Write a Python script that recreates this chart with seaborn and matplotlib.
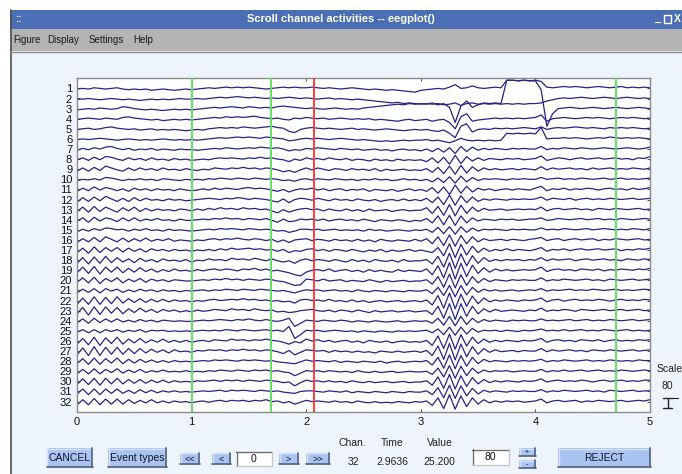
import numpy as np
import pandas as pd
import matplotlib
matplotlib.use("Agg")
import matplotlib.pyplot as plt
from matplotlib.patches import Rectangle
from matplotlib.lines import Line2D
import seaborn as sns

# ---- EEG epoch, 32 channels, samples every 0.05 s over 0..5 s (microvolts) ----
ch01 = [-5,0,-5,5,0, -5,0,5,-5,-10, -5,-10,-5,-15,-10, -5,-10,-15,-10,-5,
        -10,-5,0,5,0, 5,10,5,10,5, 10,5,0,-5,0, 5,10,5,10,5,
        5,10,5,0,5, 0,-5,0,5,0, -5,-10,-5,-10,-15, -10,-15,-20,-25,-30,
        -15,-10,-5,0,-5, 10,30,0,5,20, 5,0,5,10,5, 65,65,60,65,60,
        65,55,10,5,10, 15,10,15,10,5, 10,15,10,5,10, 15,5,10,5,10, 5]
ch02 = [0,-5,0,-5,-10, -5,0,-5,-10,-5, -10,-15,-10,-5,-10, -5,-10,-5,0,-5,
        -5,0,-5,0,5, 10,5,10,15,10, 5,10,5,0,5, 0,5,10,5,0,
        5,0,-5,0,5, -5,0,-5,-10,-5, -10,-15,-20,-25,-30, -35,-30,-40,-35,-40,
        -45,-40,-45,-40,-50, -45,-35,-55,-40,-35, -45,-40,-45,-40,-45, -40,-45,-40,-45,-40,
        -40,-35,-20,-10,0, 5,0,5,10,5, 0,5,10,5,0, 5,10,5,0,5, 0]
ch03 = [-10,-5,0,-5,5, 0,-5,0,15,10, 0,-5,-10,-5,-10, -15,-10,-5,-10,-5,
        -10,-5,0,5,10, 5,10,15,10,5, 15,10,5,10,5, 15,20,15,10,5,
        0,5,0,-5,0, 5,0,-5,0,-5, 5,10,15,20,25, 30,35,30,40,35,
        40,35,45,30,40, 10,-110,20,60,10, 30,45,40,45,40, 225,225,220,225,220,
        220,150,-140,-40,0, 5,10,5,0,5, 10,5,0,5,10, 5,0,5,10,5, 0]
ch04 = [-5,0,5,0,-5, 5,0,-5,10,15, 5,0,-5,-10,-5, -15,-10,-5,-10,-5,
        -10,-5,0,5,10, 5,15,10,15,10, 15,20,10,5,0, 5,-5,-10,5,0,
        10,5,0,5,-5, 0,5,0,-5,0, -5,0,-10,-5,-10, -15,-20,-10,-5,-15,
        -10,-5,-20,-10,-5, -30,-80,15,40,-20, -10,-5,0,5,0, 5,0,5,0,5,
        10,30,-20,0,5, 10,5,0,5,10, 5,10,5,0,5, 10,5,10,5,0, 5]
ch05 = [-5,0,5,-5,0, 10,15,5,0,-5, 0,-10,-5,0,-10, -5,-10,-5,-10,-15,
        -10,-5,-10,0,5, 10,5,10,5,15, 10,5,10,15,20, 10,5,-20,-30,-5,
        5,10,5,0,5, 0,-5,0,5,-5, 0,-5,-10,-5,0, -5,-10,-15,-10,-5,
        -10,-5,-15,-20,-10, -35,-70,20,40,-25, -5,0,-5,5,0, 5,0,5,10,5,
        0,15,-5,5,10, 5,10,15,10,5, 10,5,0,10,5, 10,5,10,5,0, 5]
ch06 = [-5,0,-5,0,5, 0,-5,-10,-5,0, -5,-10,-5,-10,-5, 0,-5,-10,-5,-10,
        -5,-10,-5,0,5, 10,5,10,15,10, 15,10,5,15,10, 5,0,-15,-10,0,
        5,0,5,0,-5, 0,5,0,-5,-10, -5,-10,-15,-20,-15, -20,-15,-10,-15,-10,
        -10,-5,-15,-10,-20, -30,-15,5,-10,-15, -10,-15,-10,-15,-10, 45,40,45,40,45,
        40,90,0,5,5, 10,5,10,5,0, 5,10,5,15,10, 5,10,5,10,5, 0]
ch07 = [-10,5,-5,10,0, 15,20,5,-5,5, -10,0,-5,5,-10, 0,-5,-10,0,-5,
        -5,-10,-5,0,5, 0,10,5,0,5, 10,5,15,10,5, 10,0,-15,-5,-10,
        5,0,10,5,0, -5,5,0,-5,0, -10,-5,0,-10,-5, -15,-5,0,-10,-5,
        -15,0,-20,5,-25, 10,-35,20,-20,15, -10,5,-5,5,0, -5,5,0,5,0,
        0,20,-5,5,0, 10,5,0,10,5, 0,5,10,5,0, 5,10,5,0,5, 15]
ch08 = [-5,10,-10,15,-5, 20,15,0,-10,10, -5,5,-10,10,-5, 0,-10,5,-5,0,
        -10,-5,0,-5,5, 10,5,10,5,0, 10,5,15,5,10, 0,-5,-20,0,-10,
        10,0,5,-5,10, 0,-5,5,-10,0, -5,-15,0,-10,-5, -15,0,-10,-5,-10,
        -5,-20,10,-30,15, -40,30,-35,20,-15, 10,-10,5,0,-5, 5,0,5,-5,0,
        5,25,-10,0,10, 5,-5,5,10,0, 5,10,0,5,10, 0,5,-5,10,5, 20]
ch09 = [-15,10,-15,15,-10, 25,10,-5,-15,10, -10,10,-5,5,-10, 10,-5,0,-10,5,
        -5,-10,0,-5,10, 5,0,10,5,15, 5,10,0,10,5, -5,-20,-10,-25,-5,
        10,-5,10,0,-10, 5,0,-10,5,-5, 0,-10,5,-15,0, -10,-5,0,-10,-5,
        -10,5,-25,15,-35, 25,-40,30,-30,20, -15,10,-5,5,-5, 0,5,-5,5,0,
        -5,20,-5,10,0, 5,10,0,5,-5, 10,0,5,10,0, 5,0,10,5,0, 10]
ch10 = [-10,0,-5,5,-5, 15,10,0,-10,0, -5,5,-5,0,-10, 5,0,-5,-10,0,
        -5,0,-5,5,0, 10,5,0,10,5, 0,10,5,0,5, 0,-10,-5,-15,0,
        5,-5,5,0,-5, 5,0,-5,0,-10, 0,-5,5,-5,0, -10,-5,5,-5,0,
        -10,0,-20,10,-25, 20,-30,25,-20,15, -10,5,0,5,0, -5,5,0,5,0,
        0,15,0,5,10, 0,5,0,10,5, 0,5,10,0,5, 10,0,5,0,5, 10]
ch11 = [-15,10,-10,20,-5, 15,5,-10,5,-15, 10,-5,5,-10,5, -5,0,-10,5,-5,
        -10,-5,5,-5,10, 0,10,5,0,10, 15,5,10,5,-5, -15,0,-20,-5,5,
        0,10,-5,5,-10, 0,5,-10,0,-5, 5,-15,0,-5,-10, 0,-15,-5,5,-10,
        0,-15,15,-30,20, -40,35,-30,25,-20, 10,-5,5,-10,0, 5,-5,5,0,-5,
        10,25,-10,5,0, 10,-5,5,0,10, 5,-5,5,10,0, 5,-5,10,0,5, 15]
ch12 = [-20,15,-15,20,-10, 25,5,-15,10,-15, 15,-10,10,-5,0, -10,5,-5,0,-10,
        -5,0,5,10,5, 0,10,5,15,10, 0,10,5,0,-10, -20,5,-25,0,10,
        5,-5,10,0,-10, 5,-5,0,-10,5, -5,-10,0,-15,-5, 0,-10,5,-10,0,
        -10,10,-25,20,-40, 35,-45,30,-25,20, -15,5,-5,5,0, -5,5,0,5,0,
        5,20,-5,10,5, 0,10,-5,5,10, 0,5,0,10,5, 0,5,10,0,5, 10]
ch13 = [-15,20,-20,25,-15, 20,0,-20,15,-10, 20,-15,10,-10,5, -5,0,-10,5,0,
        -10,5,-5,10,0, 15,5,10,0,15, 5,10,0,5,-10, -25,0,-20,-5,5,
        10,0,5,-10,5, -5,-10,5,-10,0, -15,5,-10,-5,0, -15,-5,0,-10,-5,
        -5,15,-30,25,-45, 40,-50,35,-30,20, -15,10,-5,0,5, -5,0,5,0,5,
        0,20,-10,5,10, 0,5,10,0,5, -5,10,5,0,10, 5,0,5,10,0, 5]
ch14 = [-10,15,-20,20,-10, 15,5,-15,15,-10, 15,-10,5,-5,10, -5,0,-10,5,-5,
        -5,0,5,0,10, 5,15,5,10,0, 10,5,0,10,-5, -20,5,-15,-10,5,
        0,5,-5,5,-10, 0,5,-5,0,-10, 5,-5,-15,0,-5, -10,0,-5,-15,-5,
        -10,10,-25,30,-40, 35,-45,30,-25,15, -10,5,0,-5,5, 0,5,-5,0,5,
        5,15,-5,0,10, 5,0,5,10,0, 5,10,0,5,0, 10,5,0,5,10, 5]
ch15 = [-15,5,-10,10,-5, 15,10,0,5,-10, 5,-5,10,-5,0, -10,5,-5,0,-5,
        -10,-5,0,5,0, 10,5,10,5,0, 10,5,0,5,0, -10,-5,-20,-10,5,
        5,0,5,-5,0, 5,-5,0,-5,0, -10,5,-5,0,-10, -5,0,-5,-10,0,
        -5,5,-20,20,-30, 25,-35,25,-20,15, -10,5,0,5,0, -5,5,0,5,0,
        0,15,0,5,0, 10,5,0,5,10, 0,5,10,5,0, 5,0,10,5,0, 10]
ch16 = [-20,10,-15,20,-15, 25,5,-15,15,-15, 10,-10,15,-10,5, -5,10,-10,0,-5,
        -10,0,-5,5,10, 0,10,5,15,5, 0,10,5,-5,5, -15,0,-20,0,5,
        10,-5,5,0,-10, 5,-5,0,-10,5, -10,0,-15,5,-5, -10,0,-5,-10,5,
        -10,10,-30,25,-45, 40,-50,35,-30,25, -15,10,-5,0,5, -5,5,0,-5,5,
        10,20,-5,5,10, -5,5,10,0,5, 10,-5,5,0,10, 5,0,5,10,0, 5]
ch17 = [-20,15,-25,25,-20, 20,-10,20,-15,15, -10,10,-15,10,-5, 5,-10,5,-5,0,
        -10,0,-5,5,-5, 10,0,15,5,10, 15,5,10,0,5, -10,5,-20,-5,-10,
        5,10,-5,5,-10, 5,0,-10,5,-5, -15,0,-10,5,-15, 0,-10,-5,5,-10,
        0,-10,-20,20,-45, 50,-60,45,-40,30, -20,15,-10,5,-5, 10,-5,5,0,-5,
        5,20,-10,5,0, 10,-5,5,10,0, 5,10,0,5,10, -5,5,0,10,5, 15]
ch18 = [-25,20,-30,25,-25, 30,-20,20,-15,10, -20,15,-10,5,-15, 10,-5,0,-10,5,
        -15,0,-5,10,0, 5,-5,15,5,10, 0,15,5,-5,10, -5,-15,-5,-25,0,
        10,-5,5,0,-10, 5,-5,-15,5,-10, 0,-15,5,-5,-10, 0,-15,5,-10,-5,
        -5,5,-30,30,-55, 55,-65,50,-45,35, -25,20,-10,5,-5, 5,0,5,-5,5,
        0,20,-5,10,0, 5,10,-5,5,10, 0,5,10,0,5, -5,10,5,0,10, 5]
ch19 = [-20,25,-25,30,-30, 25,-15,25,-20,15, -15,20,-10,10,-15, 5,-10,10,-5,0,
        -10,5,-5,5,10, 0,10,5,-5,10, 5,15,0,10,-5, 0,-10,-20,-35,-45,
        -15,0,5,-5,10, -10,0,5,-10,0, -15,5,-10,0,-10, -15,5,-10,0,-5,
        -10,10,-35,35,-60, 60,-70,55,-50,40, -25,20,-15,10,-5, 5,-5,0,5,0,
        5,25,-10,5,10, 0,5,-5,10,5, 0,10,-5,5,0, 10,5,0,10,5, 15]
ch20 = [-15,20,-20,25,-25, 15,-10,20,-20,10, -10,15,-15,10,-5, 5,-10,5,0,-5,
        -5,0,5,0,10, 5,15,5,10,0, 10,5,0,10,5, -5,-10,-25,-40,-35,
        10,5,-5,10,-5, 0,5,-10,0,-5, -10,5,-5,-15,0, -10,-5,0,-10,-5,
        -5,5,-30,30,-55, 50,-60,45,-40,30, -20,15,-10,5,0, -5,5,0,5,0,
        0,20,-5,5,0, 10,5,0,5,10, 0,5,-5,10,5, 0,5,10,0,5, 10]
ch21 = [-20,10,-15,15,-20, 15,-5,10,-15,5, -10,10,-5,5,-10, 5,-5,0,-10,0,
        -5,0,5,-5,5, 0,10,5,0,10, 5,0,10,5,0, -5,0,-10,-20,-5,
        5,0,5,-5,0, 5,-5,0,-10,5, -5,-10,0,-5,-10, 0,-5,-10,0,-5,
        -5,5,-25,25,-40, 40,-50,40,-35,25, -15,10,-5,5,-5, 0,5,-5,0,5,
        0,15,-5,5,0, 5,10,0,5,0, 10,5,0,5,10, 0,5,0,5,10, 5]
ch22 = [-30,20,-30,30,-30, 25,-25,30,-20,15, -15,15,-15,10,-10, 10,-10,5,-5,0,
        -10,0,-5,5,10, 0,5,10,5,15, 5,10,0,5,-5, 0,-10,-5,-20,5,
        10,0,5,-5,10, -5,0,-10,5,-10, 0,-15,-5,0,-10, -5,0,-10,-5,0,
        -10,5,-35,40,-60, 60,-65,50,-45,35, -25,20,-10,5,-5, 5,0,-5,5,0,
        5,20,-10,5,10, -5,5,10,0,5, 0,10,5,-5,5, 10,0,5,0,10, 5]
ch23 = [-25,25,-35,30,-30, 30,-20,25,-25,15, -15,20,-10,10,-15, 10,-5,5,-10,0,
        -10,5,-5,0,10, 5,0,15,5,10, 0,15,5,0,5, -10,-5,-15,-10,0,
        5,10,0,-5,5, -10,5,0,-10,5, -5,-15,0,-10,-5, 0,-10,-5,0,-10,
        -5,0,-30,35,-60, 55,-70,55,-45,35, -25,15,-10,10,-5, 0,5,0,-5,5,
        0,20,-5,5,0, 10,5,-5,10,5, 0,5,10,0,5, 10,0,5,10,0, 5]
ch24 = [-15,15,-20,20,-15, 15,-10,15,-10,5, -10,10,-5,5,-10, 5,0,-5,0,-5,
        -5,0,5,0,5, 10,5,0,10,5, 15,5,0,10,0, -5,5,20,-45,-20,
        5,0,-5,5,0, -5,5,0,-10,0, -5,-10,0,-5,-10, -5,0,-10,-5,0,
        -5,0,-20,20,-35, 35,-40,35,-30,20, -15,10,-5,5,0, -5,5,0,5,0,
        0,15,0,5,0, 5,10,0,5,10, 0,5,0,10,5, 0,5,10,0,5, 10]
ch25 = [-10,10,-15,10,-15, 10,-5,10,-10,5, -5,10,-10,5,0, 5,-5,0,-5,0,
        -5,0,5,0,5, 0,10,5,0,10, 5,0,5,10,0, 5,-5,35,-60,-30,
        5,0,5,-5,0, 5,0,-5,0,-10, 0,-5,-10,0,-5, -10,0,-5,0,-5,
        0,5,-15,15,-30, 30,-35,30,-25,20, -10,5,0,5,-5, 5,0,-5,5,0,
        5,15,0,5,0, 10,0,5,10,0, 5,0,10,5,0, 5,10,0,5,0, 5]
ch26 = [-25,20,-30,30,-35, 25,-20,30,-25,15, -15,20,-15,10,-10, 15,-10,5,-10,5,
        -10,0,5,-5,10, 5,0,15,5,10, 0,10,5,15,5, 0,-10,-25,-5,-15,
        15,0,10,-5,5, -10,0,5,-10,0, -15,5,-5,-10,0, -15,-5,0,-10,-5,
        -10,5,-35,40,-60, 55,-65,50,-40,30, -20,15,-10,5,-5, 5,0,-5,5,0,
        5,20,-10,5,10, 0,5,-5,10,5, 0,10,-5,5,10, 0,5,0,10,5, 10]
ch27 = [-30,25,-35,35,-35, 30,-25,30,-25,20, -20,20,-15,15,-10, 10,-15,10,-5,0,
        -10,5,0,10,5, 10,0,10,5,15, 5,10,0,10,5, -5,-20,5,-30,-10,
        10,5,0,5,-10, 5,-5,0,-10,0, -10,-5,-15,0,-5, -10,0,-10,-5,0,
        -10,5,-35,40,-65, 60,-70,55,-45,35, -25,20,-10,10,-5, 0,5,-5,5,0,
        0,20,-5,10,0, 5,10,0,5,-5, 10,5,0,10,5, 0,5,10,0,5, 10]
ch28 = [-20,20,-25,25,-25, 20,-15,25,-20,15, -15,15,-10,10,-10, 5,-10,5,-5,0,
        -5,0,5,0,10, 5,10,5,0,10, 5,10,5,0,5, -5,-10,-15,-20,-5,
        10,0,5,0,-5, 5,-10,0,-5,-10, 0,-5,-10,0,-15, -5,0,-10,-5,0,
        -5,5,-30,30,-55, 50,-60,45,-40,30, -20,15,-5,5,0, -5,5,0,5,0,
        5,15,-5,5,0, 10,5,0,5,10, 0,5,0,10,5, 0,5,0,10,5, 5]
ch29 = [-20,15,-20,20,-20, 15,-10,20,-15,10, -10,15,-10,5,-5, 10,-5,0,-5,5,
        -5,0,-5,5,0, 10,5,0,10,5, 0,10,5,10,0, 5,-5,-10,-35,-15,
        5,0,5,-5,5, 0,-5,0,-10,5, -5,-10,0,-10,-5, 0,-10,-5,0,-5,
        -5,0,-25,25,-45, 45,-55,40,-35,25, -15,10,-5,5,0, 5,-5,0,5,0,
        0,15,-5,5,0, 10,0,5,10,0, 5,10,0,5,0, 10,5,0,5,10, 5]
ch30 = [-25,20,-25,25,-30, 25,-20,25,-20,15, -15,15,-15,10,-10, 10,-10,5,-5,0,
        -5,5,0,5,10, 0,10,5,10,0, 10,5,0,10,5, 0,-10,-5,-35,-10,
        10,0,5,-5,5, -5,0,-10,5,-5, -10,0,-10,-5,0, -10,-5,0,-10,-5,
        -5,5,-30,35,-55, 55,-60,45,-40,30, -20,15,-10,5,-5, 5,0,-5,5,0,
        5,20,-5,5,10, 0,5,0,10,5, -5,5,10,0,5, 10,0,5,0,10, 10]
ch31 = [-20,20,-25,20,-25, 20,-15,20,-15,10, -15,15,-10,10,-10, 5,-5,5,-5,0,
        -5,0,5,0,5, 10,0,10,5,10, 5,0,10,5,0, 5,-5,-10,-15,0,
        5,5,0,-5,5, 0,-5,5,-10,0, -5,-10,0,-5,-10, 0,-5,-10,0,-5,
        -5,5,-25,30,-50, 50,-55,45,-35,25, -20,10,-5,5,0, -5,5,0,5,0,
        0,15,-5,5,0, 10,5,0,5,10, 0,5,-5,10,5, 0,5,10,0,5, 5]
ch32 = [-25,15,-25,25,-25, 20,-20,20,-20,15, -15,10,-10,15,-10, 5,-10,5,-5,0,
        -10,0,5,-5,5, 10,0,10,5,10, 0,10,5,15,0, 5,-10,0,-20,-5,
        10,0,5,0,-5, 5,-5,0,-10,5, -5,-10,0,-10,-5, -10,0,-5,-10,0,
        -5,5,-30,30,-55, 55,-60,45,-40,30, -20,15,-10,5,-5, 5,0,5,-5,0,
        5,20,-10,5,10, 0,5,10,-5,5, 0,10,5,0,5, 10,0,5,10,5, 15]

channels = [ch01, ch02, ch03, ch04, ch05, ch06, ch07, ch08, ch09, ch10, ch11,
            ch12, ch13, ch14, ch15, ch16, ch17, ch18, ch19, ch20, ch21, ch22,
            ch23, ch24, ch25, ch26, ch27, ch28, ch29, ch30, ch31, ch32]
channel_labels = [str(i) for i in range(1, 33)]
sample_step = 0.05          # seconds between samples
spacing = 80                # display scale (uV between channels)
time_ticks = [0, 1, 2, 3, 4, 5]

event_times = [1.0, 1.69, 2.07, 4.70]
event_colors = ["#62e062", "#62e062", "#ff3b3b", "#62e062"]

# ---- long-form table, each channel offset by the display spacing ----
n_ch = len(channels)
rows = []
for i, sig in enumerate(channels):
    offset = (n_ch - i) * spacing
    for k, v in enumerate(sig):
        rows.append((k * sample_step, channel_labels[i], v + offset))
df = pd.DataFrame(rows, columns=["time", "channel", "trace"])

sns.set_theme(style="white")
plt.rcParams["font.family"] = ["Liberation Sans", "DejaVu Sans"]

W, H = 682, 474
fig = plt.figure(figsize=(W / 100, H / 100), dpi=100)
BG = "#eef4fc"
fig.patch.set_facecolor("white")


def rect(x0, y0, x1, y1, **kw):
    r = Rectangle((x0 / W, 1 - y1 / H), (x1 - x0) / W, (y1 - y0) / H,
                  transform=fig.transFigure, **kw)
    fig.add_artist(r)
    return r


def hline(x0, x1, y, color, lw=1.0):
    fig.add_artist(Line2D([x0 / W, x1 / W], [1 - y / H, 1 - y / H],
                          transform=fig.transFigure, color=color, lw=lw))


def vline(x, y0, y1, color, lw=1.0):
    fig.add_artist(Line2D([x / W, x / W], [1 - y0 / H, 1 - y1 / H],
                          transform=fig.transFigure, color=color, lw=lw))


def text(x, y, s, **kw):
    kw.setdefault("ha", "center")
    kw.setdefault("va", "center")
    fig.text(x / W, 1 - y / H, s, **kw)


# window body
rect(10, 10, W + 2, H + 2, facecolor=BG, edgecolor="none", zorder=0)
vline(10.5, 10, H, "#505050", lw=1.2)

# title bar
rect(10, 10, W + 2, 29, facecolor="#4b6fb4", edgecolor="none", zorder=1)
text(341, 19.5, "Scroll channel activities -- eegplot()", color="white",
     fontsize=8, fontweight="bold")
text(18, 19, "::", color="#dfe8f8", fontsize=7, fontweight="bold")
text(657, 19.5, "_", color="white", fontsize=8, fontweight="bold")
rect(664, 15.5, 671, 22.5, facecolor="none", edgecolor="white", lw=1.0, zorder=2)
text(677.5, 19.5, "X", color="white", fontsize=7.5, fontweight="bold")

# menu bar
rect(10, 29, W + 2, 51, facecolor="#b3b3b3", edgecolor="none", zorder=1)
hline(10, W, 51.5, "#8c8c8c", lw=1.0)
for label, xm in [("Figure", 27), ("Display", 63), ("Settings", 106), ("Help", 143)]:
    text(xm, 40, label, color="#1a1a1a", fontsize=7)

# ---- data axes ----
ax = fig.add_axes([77 / W, 1 - 411.7 / H, 573 / W, (411.7 - 78.3) / H])
ax.set_facecolor("white")
sns.lineplot(data=df, x="time", y="trace", units="channel", estimator=None,
             sort=False, color="#24248a", linewidth=0.9, ax=ax, zorder=2)
for t, c in zip(event_times, event_colors):
    ax.axvline(t, color=c, lw=1.4, zorder=3)

ax.set_xlim(time_ticks[0], time_ticks[-1])
ax.set_ylim(0, (n_ch + 1) * spacing)
ax.set_xticks(time_ticks)
ax.set_xticklabels([str(t) for t in time_ticks])
ax.set_yticks([(n_ch - i) * spacing for i in range(n_ch)])
ax.set_yticklabels(channel_labels)
ax.set_xlabel("")
ax.set_ylabel("")
ax.tick_params(axis="both", direction="in", length=2.5, width=0.8,
               colors="#555555", labelcolor="#111111", labelsize=8,
               top=True, right=True, bottom=True, left=True, pad=3.5)
for s in ax.spines.values():
    s.set_color("#8a8a8a")
    s.set_linewidth(1.0)

# scale indicator (one channel spacing tall)
xs = 5.155
ax.plot([xs, xs], [30, 30 + spacing], color="#222222", lw=1.0, clip_on=False)
ax.plot([xs - 0.04, xs + 0.04], [30, 30], color="#222222", lw=1.0, clip_on=False)
ax.plot([xs - 0.04, xs + 0.04], [30 + spacing, 30 + spacing], color="#222222",
        lw=1.0, clip_on=False)
ax.plot([xs + 0.04, xs + 0.09], [30 + spacing, 30 + spacing], color="#222222",
        lw=0.8, clip_on=False)
text(670, 369, "Scale", color="#222222", fontsize=7.5)
text(667.5, 386, str(spacing), color="#222222", fontsize=7.5)


# ---- control buttons ----
def button(x0, y0, x1, y1, label, fs=7.5):
    rect(x0, y0, x1, y1, facecolor="#a9c4f0", edgecolor="none", zorder=1)
    hline(x0, x1, y0 + 0.5, "#d5e2f8")
    vline(x0 + 0.5, y0, y1, "#d5e2f8")
    hline(x0, x1 + 1, y1, "#4e5f80", lw=1.2)
    vline(x1, y0, y1, "#4e5f80", lw=1.2)
    text((x0 + x1) / 2, (y0 + y1) / 2 + 0.5, label, color="#15152e", fontsize=fs)


def editbox(x0, y0, x1, y1, label):
    rect(x0, y0, x1, y1, facecolor="white", edgecolor="none", zorder=1)
    hline(x0, x1, y0 + 0.5, "#6e6e6e")
    vline(x0 + 0.5, y0, y1, "#6e6e6e")
    hline(x0, x1, y1, "#c8c8c8")
    vline(x1, y0, y1, "#c8c8c8")
    text((x0 + x1) / 2, (y0 + y1) / 2 + 0.5, label, color="#111111", fontsize=7.5)


button(47, 448, 91.5, 466.5, "CANCEL")
button(108, 448, 165.5, 466.5, "Event types")
button(180, 452.5, 199, 464, "<<", fs=6.5)
button(212, 452.5, 230, 464, "<", fs=6.5)
editbox(236, 451.5, 271.5, 465.5, "0")
button(279, 452.5, 298, 464, ">", fs=6.5)
button(306, 452.5, 329, 464, ">>", fs=6.5)

for label, xm in [("Chan.", 352.5), ("Time", 392.5), ("Value", 440)]:
    text(xm, 443, label, color="#222222", fontsize=7.5)
for label, xm in [("32", 353.5), ("2.9636", 392), ("25.200", 439.5)]:
    text(xm, 462, label, color="#222222", fontsize=7.5)

editbox(472, 449, 508.5, 465, str(spacing))
button(519, 448, 535, 455.5, "+", fs=5)
button(519, 460, 535, 467.5, "-", fs=5)
button(558, 448, 650, 466.5, "REJECT")

fig.savefig("out.png", dpi=100, facecolor=fig.get_facecolor())
